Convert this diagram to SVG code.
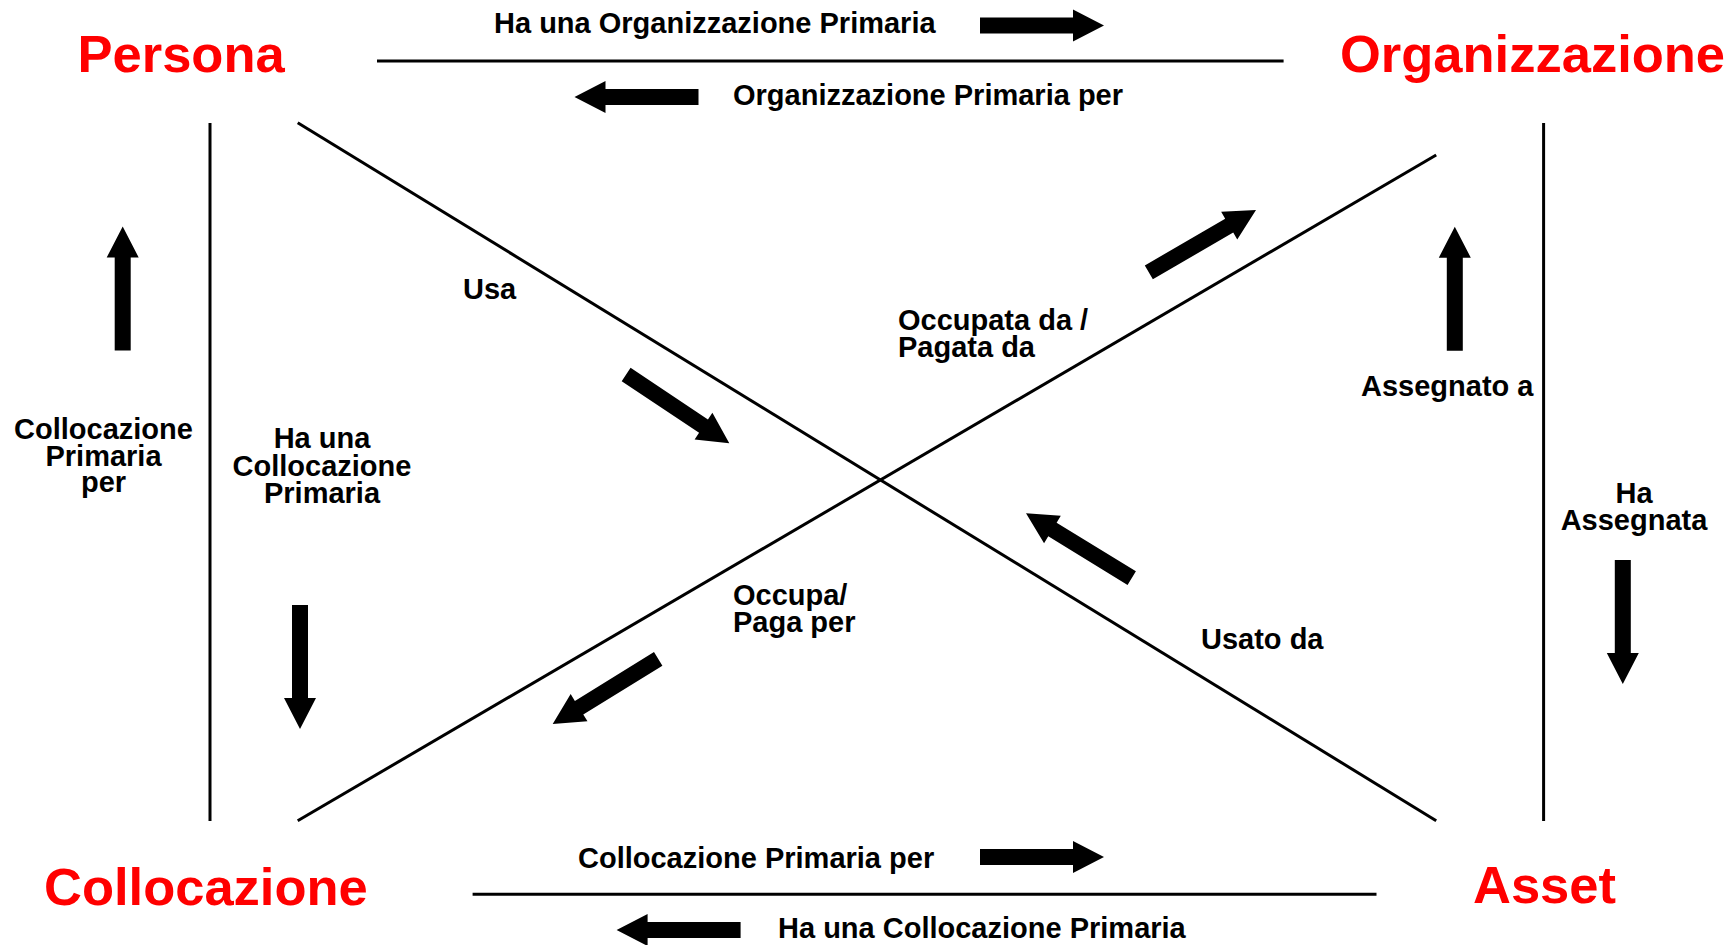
<svg xmlns="http://www.w3.org/2000/svg" xmlns:xlink="http://www.w3.org/1999/xlink" width="1735" height="945" viewBox="0 0 1735 945">
<style>
.node{font-family:"Liberation Sans",Arial,sans-serif;font-weight:bold;font-size:52.5px;fill:#FF0000}
.lbl{font-family:"Liberation Sans",Arial,sans-serif;font-weight:bold;font-size:29px;fill:#000}
.mid{text-anchor:middle}
.ln{stroke:#000;stroke-width:3;fill:none}
.arr{fill:#000}
</style>
<defs>
<path id="arr" d="M0,0 L-31,-16 L-31,-8 L-124,-8 L-124,8 L-31,8 L-31,16 Z"/>
</defs>
<rect width="1735" height="945" fill="#fff"/>
<g id="node-persona"><text class="node" x="77.5" y="72">Persona</text></g>
<g id="node-organizzazione"><text class="node" x="1340" y="72">Organizzazione</text></g>
<g id="node-collocazione"><text class="node" x="44" y="905">Collocazione</text></g>
<g id="node-asset"><text class="node" x="1473" y="903">Asset</text></g>
<g id="connectors">
<line class="ln" x1="377" y1="61" x2="1283.6" y2="61"/>
<line class="ln" x1="472.6" y1="894.3" x2="1376.5" y2="894.3"/>
<line class="ln" x1="210" y1="123" x2="210" y2="821"/>
<line class="ln" x1="1543.6" y1="123" x2="1543.6" y2="821"/>
<line class="ln" x1="297.7" y1="122.7" x2="1436.2" y2="820.7"/>
<line class="ln" x1="297.7" y1="820.7" x2="1436.2" y2="155"/>
<g class="arr">
<use xlink:href="#arr" transform="translate(1104,25.5)"/>
<use xlink:href="#arr" transform="translate(574.5,97) rotate(180)"/>
<use xlink:href="#arr" transform="translate(1104,857)"/>
<use xlink:href="#arr" transform="translate(616.6,930) rotate(180)"/>
<use xlink:href="#arr" transform="translate(122.7,226.5) rotate(-90)"/>
<use xlink:href="#arr" transform="translate(300,729) rotate(90)"/>
<use xlink:href="#arr" transform="translate(1454.8,226.7) rotate(-90)"/>
<use xlink:href="#arr" transform="translate(1622.8,684) rotate(90)"/>
<use xlink:href="#arr" transform="translate(729.3,443.3) rotate(33.7)"/>
<use xlink:href="#arr" transform="translate(1256,210) rotate(-30.2)"/>
<use xlink:href="#arr" transform="translate(552.7,724) rotate(148.3)"/>
<use xlink:href="#arr" transform="translate(1026,513.3) rotate(211.5)"/>
</g>
<text class="lbl" x="494" y="33">Ha una Organizzazione Primaria</text>
<text class="lbl" x="733" y="105">Organizzazione Primaria per</text>
<text class="lbl" x="578" y="868">Collocazione Primaria per</text>
<text class="lbl" x="778" y="938">Ha una Collocazione Primaria</text>
<text class="lbl" x="463" y="299">Usa</text>
<text class="lbl" x="898" y="330">Occupata da /</text>
<text class="lbl" x="898" y="357">Pagata da</text>
<text class="lbl" x="733" y="605">Occupa/</text>
<text class="lbl" x="733" y="632">Paga per</text>
<text class="lbl" x="1201" y="649">Usato da</text>
<text class="lbl" x="1361" y="396">Assegnato a</text>
<text class="lbl mid" x="1634" y="503">Ha</text>
<text class="lbl mid" x="1634" y="530">Assegnata</text>
<text class="lbl mid" x="103.5" y="439">Collocazione</text>
<text class="lbl mid" x="103.5" y="465.5">Primaria</text>
<text class="lbl mid" x="103.5" y="492">per</text>
<text class="lbl mid" x="322" y="448">Ha una</text>
<text class="lbl mid" x="322" y="476">Collocazione</text>
<text class="lbl mid" x="322" y="503">Primaria</text>
</g>
</svg>
